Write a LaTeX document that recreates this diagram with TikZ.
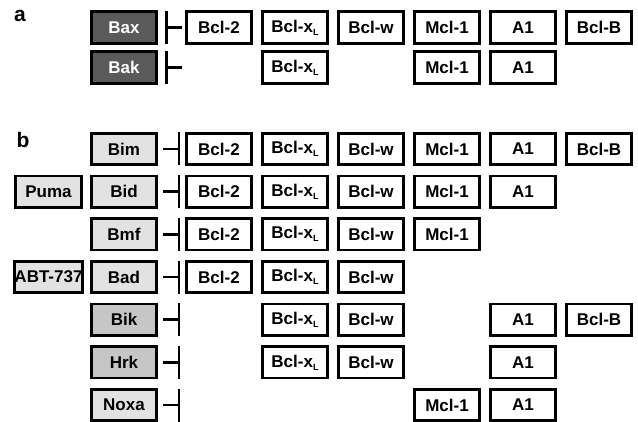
\documentclass[tikz,border=0pt]{standalone}
\usepackage{fontspec}
\setmainfont{Liberation Sans}
\usetikzlibrary{arrows.meta}
\definecolor{darkfill}{HTML}{5A5A5A}
\definecolor{lightfill}{HTML}{E2E2E2}
\definecolor{midfill}{HTML}{C6C6C6}
\newcommand\subL{\raisebox{-3pt}{\fontsize{9}{9}\selectfont L}}
\newcommand\tgname[1]{\ifcase#1\or Bcl-2\or Bcl-x\subL\or Bcl-w\or Mcl-1\or A1\or Bcl-B\fi}
\tikzset{
  box/.style={draw=black, line width=2.8pt, minimum width=64.5pt, minimum height=31.5pt, inner sep=0pt,
    font=\fontsize{17}{20}\selectfont\bfseries},
  target/.style={box, fill=white},
  darkbox/.style={box, fill=darkfill, text=white},
  lightbox/.style={box, fill=lightfill},
  midbox/.style={box, fill=midfill},
  panel/.style={font=\fontsize{21}{24}\selectfont\bfseries, inner sep=0pt},
  inhib/.style={line width=2.5pt, -{Bar[width=33pt]}},
}
\begin{document}
\begin{tikzpicture}[x=1pt,y=-1pt]
\useasboundingbox (0,0) rectangle (638,422);
% panel labels
\node[panel] (la) at (20,16) {a};
\node[panel] (lb) at (23,140) {b};
% panel a
\node[darkbox] (Bax) at (124,27.5) {Bax};
\node[darkbox] (Bak) at (124,67.5) {Bak};
\foreach \c in {1,...,6}{
  \node[target] (a1c\c) at ({219+76*(\c-1)},27.5) {\tgname{\c}};
}
\foreach \c in {2,4,5}{
  \node[target] (a2c\c) at ({219+76*(\c-1)},67.5) {\tgname{\c}};
}
\coordinate (barBax) at (165,27.5);
\coordinate (endBax) at (182,27.5);
\coordinate (barBak) at (165,67.5);
\coordinate (endBak) at (182,67.5);
\draw[inhib] (endBax) -- (barBax);
\draw[inhib] (endBak) -- (barBak);
% panel b
\foreach \r/\nm/\sty/\cols in {
  1/Bim/lightbox/{1,2,3,4,5,6},
  2/Bid/lightbox/{1,2,3,4,5},
  3/Bmf/lightbox/{1,2,3,4},
  4/Bad/lightbox/{1,2,3},
  5/Bik/midbox/{2,3,5,6},
  6/Hrk/midbox/{2,3,5},
  7/Noxa/lightbox/{4,5}}{
  \pgfmathsetmacro\yy{149+42.67*(\r-1)}
  \node[\sty] (bh\r) at (124,\yy) {\nm};
  \coordinate (start\r) at (163,\yy);
  \coordinate (bar\r) at (180,\yy);
  \draw[inhib] (start\r) -- (bar\r);
  \foreach \c in \cols {
    \node[target] (b\r c\c) at ({219+76*(\c-1)},\yy) {\tgname{\c}};
  }
}
\node[lightbox, minimum width=66pt] (Puma) at (48.5,191.67) {Puma};
\node[lightbox, minimum width=66pt] (ABT) at (48.5,277) {ABT-737};
\end{tikzpicture}
\end{document}
